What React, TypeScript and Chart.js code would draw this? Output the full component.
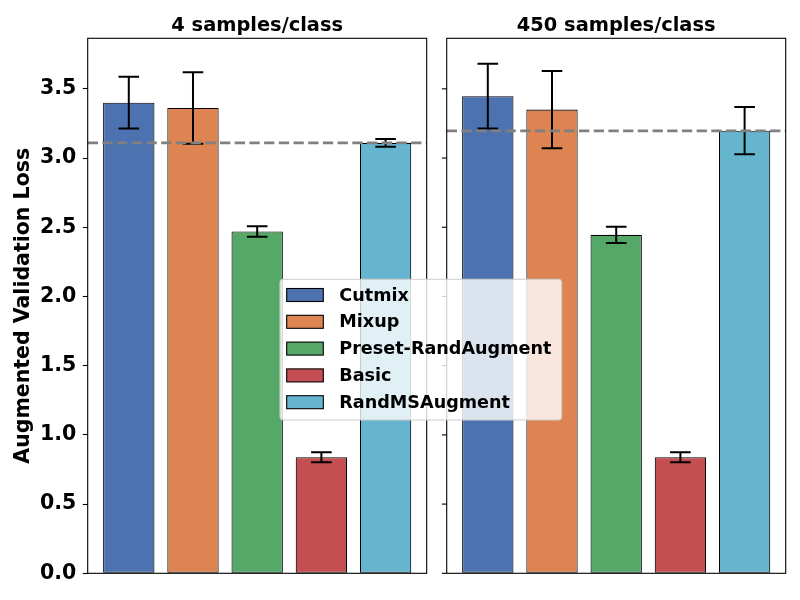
import React, { useEffect, useRef } from 'react';
import { Chart, registerables } from 'chart.js';

Chart.register(...registerables);

// ---------- data ----------
const methods = ['Cutmix', 'Mixup', 'Preset-RandAugment', 'Basic', 'RandMSAugment'];
const panelTitles = ['4 samples/class', '450 samples/class'];
const loss4 = [3.40, 3.362, 2.47, 0.839, 3.11];
const std4 = [0.187, 0.258, 0.038, 0.036, 0.028];
const loss450 = [3.447, 3.35, 2.445, 0.839, 3.198];
const std450 = [0.234, 0.279, 0.058, 0.036, 0.17];
const refLoss = [3.109, 3.196];
const yTickStep = 0.5;
const colors = ['#4C72B0', '#DD8452', '#55A868', '#C44E52', '#64B5CD'];

const panelSeries = [
  { values: loss4, std: std4 },
  { values: loss450, std: std450 },
];

// ---------- layout constants (x units) ----------
const X_MARGIN = 0.64;
const PANEL_GAP = 0.312;
const N = methods.length;
const RIGHT_OFFSET = N - 1 + 2 * X_MARGIN + PANEL_GAP;
const panelOffsets = [0, RIGHT_OFFSET];
const X_MIN = -X_MARGIN;
const X_MAX = RIGHT_OFFSET + N - 1 + X_MARGIN;
const Y_MAX = Math.max(...loss450.map((v, i) => v + std450[i]), ...loss4.map((v, i) => v + std4[i])) * 1.05;

const FONT = '"DejaVu Sans", sans-serif';

const panelPlugin = {
  id: 'panelPlugin',
  afterDatasetsDraw(chart: any) {
    const { ctx, chartArea, scales } = chart;
    const x = scales.x;
    const y = scales.y;
    const top = chartArea.top;
    const bottom = chartArea.bottom;
    const panels = panelOffsets.map((off) => [
      x.getPixelForValue(off - X_MARGIN),
      x.getPixelForValue(off + N - 1 + X_MARGIN),
    ]);

    ctx.save();
    // error bars
    ctx.strokeStyle = '#000';
    ctx.lineWidth = 2;
    ctx.lineCap = 'butt';
    chart.data.datasets.forEach((_ds: any, di: number) => {
      const meta = chart.getDatasetMeta(di);
      meta.data.forEach((el: any, j: number) => {
        const v = panelSeries[j].values[di];
        const s = panelSeries[j].std[di];
        const yHi = y.getPixelForValue(v + s);
        const yLo = y.getPixelForValue(v - s);
        const cx = el.x;
        const cap = 10.3;
        ctx.beginPath();
        ctx.moveTo(cx, yHi);
        ctx.lineTo(cx, yLo);
        ctx.moveTo(cx - cap, yHi);
        ctx.lineTo(cx + cap, yHi);
        ctx.moveTo(cx - cap, yLo);
        ctx.lineTo(cx + cap, yLo);
        ctx.stroke();
      });
    });

    // dashed reference lines
    ctx.strokeStyle = '#808080';
    ctx.lineWidth = 2.8;
    ctx.setLineDash([10.3, 4.4]);
    panels.forEach(([l, r], i) => {
      const py = y.getPixelForValue(refLoss[i]);
      ctx.beginPath();
      ctx.moveTo(l, py);
      ctx.lineTo(r, py);
      ctx.stroke();
    });
    ctx.setLineDash([]);

    // frames
    ctx.strokeStyle = '#000';
    ctx.lineWidth = 1.1;
    panels.forEach(([l, r]) => {
      ctx.strokeRect(l, top, r - l, bottom - top);
    });

    // right panel tick marks
    const rl = panels[1][0];
    y.ticks.forEach((t: any) => {
      const py = y.getPixelForValue(t.value);
      ctx.beginPath();
      ctx.moveTo(rl - 4.9, py);
      ctx.lineTo(rl, py);
      ctx.stroke();
    });

    // titles
    ctx.fillStyle = '#000';
    ctx.font = `bold 19.4px ${FONT}`;
    ctx.textAlign = 'center';
    ctx.textBaseline = 'alphabetic';
    panels.forEach(([l, r], i) => {
      ctx.fillText(panelTitles[i], (l + r) / 2, top - 7.8);
    });

    // legend
    const lx = 280;
    const ly = 279.3;
    const lw = 281.7;
    const lh = 140.7;
    const rad = 3.5;
    ctx.beginPath();
    ctx.moveTo(lx + rad, ly);
    ctx.lineTo(lx + lw - rad, ly);
    ctx.arcTo(lx + lw, ly, lx + lw, ly + rad, rad);
    ctx.lineTo(lx + lw, ly + lh - rad);
    ctx.arcTo(lx + lw, ly + lh, lx + lw - rad, ly + lh, rad);
    ctx.lineTo(lx + rad, ly + lh);
    ctx.arcTo(lx, ly + lh, lx, ly + lh - rad, rad);
    ctx.lineTo(lx, ly + rad);
    ctx.arcTo(lx, ly, lx + rad, ly, rad);
    ctx.closePath();
    ctx.fillStyle = 'rgba(255,255,255,0.8)';
    ctx.fill();
    ctx.strokeStyle = '#cccccc';
    ctx.lineWidth = 1.1;
    ctx.stroke();

    ctx.font = `bold 17.6px ${FONT}`;
    ctx.textAlign = 'left';
    ctx.textBaseline = 'middle';
    chart.data.datasets.forEach((ds: any, i: number) => {
      const cy = ly + 15.7 + i * 26.8;
      ctx.fillStyle = ds.backgroundColor;
      ctx.fillRect(lx + 6.7, cy - 6.5, 36.6, 13);
      ctx.strokeStyle = '#000';
      ctx.lineWidth = 1.1;
      ctx.strokeRect(lx + 6.7, cy - 6.5, 36.6, 13);
      ctx.fillStyle = '#000';
      ctx.fillText(ds.label, lx + 59.3, cy + 1);
    });
    ctx.restore();
  },
};

export default function App() {
  const ref = useRef<HTMLCanvasElement>(null);
  useEffect(() => {
    if (!ref.current) return;
    Chart.defaults.font.family = FONT;
    const barPositions: number[] = [];
    panelOffsets.forEach((off) => methods.forEach((_m, i) => barPositions.push(off + i)));
    const chart = new Chart(ref.current, {
      type: 'bar',
      data: {
        datasets: methods.map((m, i) => ({
          label: m,
          data: panelOffsets.map((off, p) => ({ x: off + i, y: panelSeries[p].values[i] })),
          backgroundColor: colors[i],
          borderColor: '#000',
          borderWidth: 1.1,
          borderSkipped: false,
          grouped: false,
          barPercentage: 0.8,
          categoryPercentage: 1.0,
        })),
      },
      options: {
        animation: false,
        responsive: false,
        devicePixelRatio: 1,
        layout: { padding: { left: 0, right: 14.3, top: 38.3, bottom: 26.7 } },
        plugins: {
          legend: { display: false },
          tooltip: { enabled: false },
        },
        scales: {
          x: {
            type: 'linear',
            display: false,
            offset: false,
            grid: { offset: false },
            min: X_MIN,
            max: X_MAX,
            afterBuildTicks: (scale: any) => {
              scale.ticks = barPositions.map((v) => ({ value: v }));
            },
          },
          y: {
            type: 'linear',
            min: 0,
            max: Y_MAX,
            border: { display: false },
            grid: {
              drawOnChartArea: false,
              drawTicks: true,
              tickLength: 4.9,
              tickColor: '#000',
              tickWidth: 1.1,
            },
            ticks: {
              stepSize: yTickStep,
              includeBounds: false,
              padding: 6.5,
              color: '#000',
              font: { size: 20.5, weight: 'bold', family: FONT },
              callback: (v: any) => Number(v).toFixed(1),
            },
            title: {
              display: true,
              text: 'Augmented Validation Loss',
              color: '#000',
              font: { size: 20.5, weight: 'bold', family: FONT },
              padding: { top: 11.5, bottom: 0 },
            },
            afterFit: (scale: any) => {
              scale.width = 87.7;
            },
          },
        },
      },
      plugins: [panelPlugin],
    } as any);
    return () => chart.destroy();
  }, []);
  return (
    <div style={{ position: 'absolute', left: 0, top: 0, width: 800, height: 600, background: '#fff' }}>
      <canvas ref={ref} width={800} height={600} />
    </div>
  );
}
